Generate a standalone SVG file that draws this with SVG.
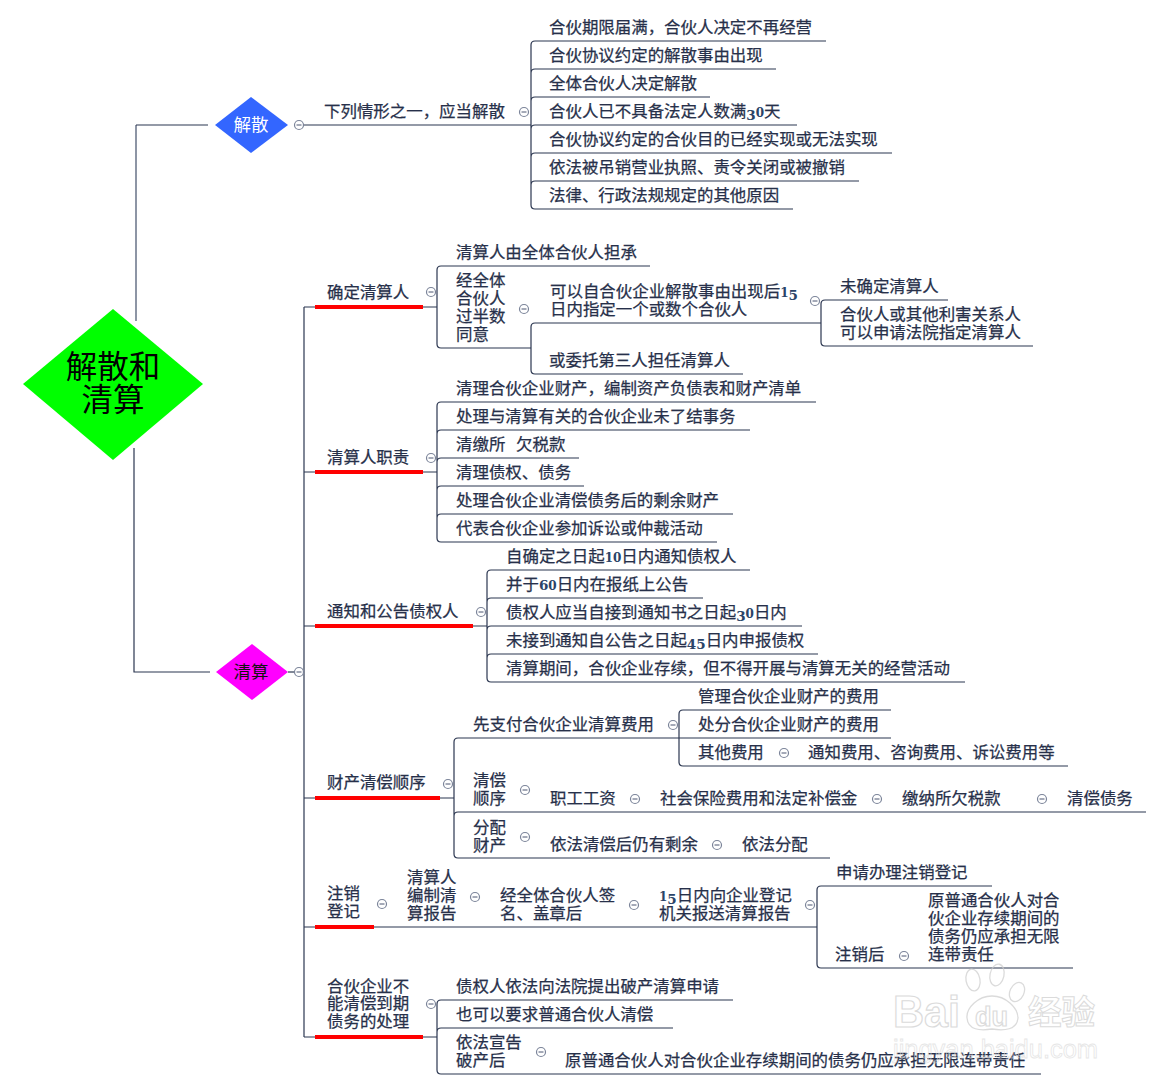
<svg xmlns="http://www.w3.org/2000/svg" width="1162" height="1090" viewBox="0 0 1162 1090">
<style>
text{font-family:"Noto Sans CJK SC","Liberation Sans",sans-serif;font-size:16.45px;fill:#27304a;stroke:#27304a;stroke-width:.25}
.n{font-family:"DejaVu Serif","Noto Sans CJK SC",serif;font-weight:bold;font-size:13.5px;fill:#2a4468;stroke:none}
.s{font-size:12px}
.l{fill:none;stroke:#2b3650;stroke-width:1.2}
.g{fill:none;stroke:#8d95a5;stroke-width:2}
.r{fill:none;stroke:#ff0000;stroke-width:4}
.c{fill:#fff;stroke:#7b8499;stroke-width:1.2}
.m{stroke:#4a5570;stroke-width:1}
.w{font-family:"Liberation Sans",sans-serif;font-weight:bold;fill:#fff;stroke:#cdcdcd;stroke-width:1.2}
</style>
<defs>
<g id="col"><circle class="c" r="4.5"/><line class="m" x1="-2.5" x2="2.5"/></g>
</defs>
<rect width="1162" height="1090" fill="#fff"/>
<g id="connectors">
<path class="g" d="M136 321V125"/>
<path class="l" d="M136 125H208"/>
<path class="l" d="M134 448V672H210"/>
<path class="l" d="M304 125H531"/>
<path class="l" d="M304 672H288"/>
<path class="l" d="M304 307V1037"/>
<path class="l" d="M826 41H535Q531 41 531 45V205Q531 209 535 209H793M531 73Q531 69 535 69H776M531 101Q531 97 535 97H710M531 129Q531 125 535 125H797M531 157Q531 153 535 153H892M531 185Q531 181 535 181H859"/>
<path class="l" d="M304 307H437M650 266H441Q437 266 437 270V344Q437 348 441 348H531"/>
<path class="l" d="M743 374H535Q531 374 531 370V327Q531 323 535 323H821"/>
<path class="l" d="M948 300H825Q821 300 821 304V342Q821 346 825 346H1033"/>
<path class="l" d="M304 472H437M816 402H441Q437 402 437 406V538Q437 542 441 542H717M437 434Q437 430 441 430H750M437 462Q437 458 441 458H579M437 490Q437 486 441 486H584M437 518Q437 514 441 514H733"/>
<path class="l" d="M304 626H487M750 570H491Q487 570 487 574V678Q487 682 491 682H965M487 602Q487 598 491 598H703M487 630Q487 626 491 626H802M487 658Q487 654 491 654H818"/>
<path class="l" d="M304 798H454M679 738H458Q454 738 454 742V854Q454 858 458 858H830M454 816Q454 812 458 812H1146"/>
<path class="l" d="M891 710H683Q679 710 679 714V762Q679 766 683 766H1068M679 738H891"/>
<path class="l" d="M304 927H817M992 886H821Q817 886 817 890V964Q817 968 821 968H1073"/>
<path class="l" d="M304 1037H437M733 1000H441Q437 1000 437 1004V1070Q437 1074 441 1074H1041M437 1032Q437 1028 441 1028H673"/>
<path class="r" d="M315 307H423M315 472H423M315 626H473M315 798H440M315 927H374M315 1037H423"/>
</g>
<g id="collapse">
<use href="#col" x="299" y="125"/><use href="#col" x="524" y="112"/><use href="#col" x="299" y="672"/>
<use href="#col" x="431" y="292"/><use href="#col" x="524" y="309"/><use href="#col" x="815" y="301"/>
<use href="#col" x="431" y="458"/><use href="#col" x="481" y="612"/><use href="#col" x="448" y="784"/>
<use href="#col" x="673" y="725"/><use href="#col" x="784" y="753"/><use href="#col" x="525" y="790"/>
<use href="#col" x="635" y="799"/><use href="#col" x="877" y="799"/><use href="#col" x="1042" y="799"/>
<use href="#col" x="525" y="837"/><use href="#col" x="717" y="845"/>
<use href="#col" x="382" y="904"/><use href="#col" x="475" y="897"/><use href="#col" x="634" y="905"/><use href="#col" x="810" y="905"/>
<use href="#col" x="904" y="956"/><use href="#col" x="431" y="1004"/><use href="#col" x="541" y="1052"/>
</g>
<g id="root"><polygon points="113,309 203,384 113,460 23,384" fill="#00ff00"/>
<text x="113" y="378" text-anchor="middle" style="font-size:31.5px;fill:#000;stroke:none">解散和</text>
<text x="113" y="411" text-anchor="middle" style="font-size:31.5px;fill:#000;stroke:none">清算</text></g>
<g id="jiesan"><polygon points="251,97 288,125 251,153 215,125" fill="#3366ff"/>
<text x="251" y="131" text-anchor="middle" style="font-size:17.5px;fill:#fff;stroke:none">解散</text></g>
<g id="qingsuan"><polygon points="252,644 288,672 252,700 216,672" fill="#ff00ff"/>
<text x="251" y="678" text-anchor="middle" style="font-size:17.5px;fill:#111;stroke:none">清算</text></g>
<g id="jiesan-items">
<text x="324" y="117">下列情形之一，应当解散</text>
<text x="549" y="33">合伙期限届满，合伙人决定不再经营</text>
<text x="549" y="61">合伙协议约定的解散事由出现</text>
<text x="549" y="89">全体合伙人决定解散</text>
<text x="549" y="117">合伙人已不具备法定人数满<tspan class="n" dy="3">3</tspan><tspan class="n s" dy="-3">0</tspan>天</text>
<text x="549" y="145">合伙协议约定的合伙目的已经实现或无法实现</text>
<text x="549" y="173">依法被吊销营业执照、责令关闭或被撤销</text>
<text x="549" y="201">法律、行政法规规定的其他原因</text>
</g>
<g id="queding">
<text x="327" y="297.5">确定清算人</text>
<text x="456" y="258">清算人由全体合伙人担承</text>
<text x="456" y="286">经全体</text><text x="456" y="304">合伙人</text><text x="456" y="322">过半数</text><text x="456" y="340">同意</text>
<text x="550" y="297">可以自合伙企业解散事由出现后<tspan class="n s">1</tspan><tspan class="n" dy="3">5</tspan></text>
<text x="550" y="315">日内指定一个或数个合伙人</text>
<text x="549" y="366">或委托第三人担任清算人</text>
<text x="840" y="292">未确定清算人</text>
<text x="840" y="320">合伙人或其他利害关系人</text>
<text x="840" y="338">可以申请法院指定清算人</text>
</g>
<g id="zhize">
<text x="327" y="462.5">清算人职责</text>
<text x="456" y="394">清理合伙企业财产，编制资产负债表和财产清单</text>
<text x="456" y="422">处理与清算有关的合伙企业未了结事务</text>
<text x="456" y="450">清缴所<tspan x="516">欠税款</tspan></text>
<text x="456" y="478">清理债权、债务</text>
<text x="456" y="506">处理合伙企业清偿债务后的剩余财产</text>
<text x="456" y="534">代表合伙企业参加诉讼或仲裁活动</text>
</g>
<g id="tongzhi">
<text x="327" y="616.5">通知和公告债权人</text>
<text x="506" y="562">自确定之日起<tspan class="n s">10</tspan>日内通知债权人</text>
<text x="506" y="590">并于<tspan class="n">6</tspan><tspan class="n s">0</tspan>日内在报纸上公告</text>
<text x="506" y="618">债权人应当自接到通知书之日起<tspan class="n" dy="3">3</tspan><tspan class="n s" dy="-3">0</tspan>日内</text>
<text x="506" y="646">未接到通知自公告之日起<tspan class="n" dy="3">45</tspan><tspan dy="-3">日内申报债权</tspan></text>
<text x="506" y="674">清算期间，合伙企业存续，但不得开展与清算无关的经营活动</text>
</g>
<g id="shunxu">
<text x="327" y="788">财产清偿顺序</text>
<text x="473" y="730">先支付合伙企业清算费用</text>
<text x="698" y="702">管理合伙企业财产的费用</text>
<text x="698" y="730">处分合伙企业财产的费用</text>
<text x="698" y="758">其他费用</text>
<text x="808" y="758">通知费用、咨询费用、诉讼费用等</text>
<text x="473" y="786">清偿</text><text x="473" y="804">顺序</text>
<text x="550" y="804">职工工资</text>
<text x="660" y="804">社会保险费用和法定补偿金</text>
<text x="902" y="804">缴纳所欠税款</text>
<text x="1067" y="804">清偿债务</text>
<text x="473" y="833">分配</text><text x="473" y="851">财产</text>
<text x="550" y="850">依法清偿后仍有剩余</text>
<text x="742" y="850">依法分配</text>
</g>
<g id="zhuxiao">
<text x="327" y="899">注销</text><text x="327" y="917">登记</text>
<text x="407" y="883">清算人</text><text x="407" y="901">编制清</text><text x="407" y="919">算报告</text>
<text x="500" y="901">经全体合伙人签</text><text x="500" y="919">名、盖章后</text>
<text x="659" y="901"><tspan class="n s">1</tspan><tspan class="n" dy="3">5</tspan><tspan dy="-3">日内向企业登记</tspan></text><text x="659" y="919">机关报送清算报告</text>
<text x="836" y="878">申请办理注销登记</text>
<text x="835" y="960">注销后</text>
<text x="928" y="906">原普通合伙人对合</text><text x="928" y="924">伙企业存续期间的</text><text x="928" y="942">债务仍应承担无限</text><text x="928" y="960">连带责任</text>
</g>
<g id="pochan">
<text x="327" y="992">合伙企业不</text><text x="327" y="1009">能清偿到期</text><text x="327" y="1027">债务的处理</text>
<text x="456" y="992">债权人依法向法院提出破产清算申请</text>
<text x="456" y="1020">也可以要求普通合伙人清偿</text>
<text x="456" y="1048">依法宣告</text><text x="456" y="1066">破产后</text>
<text x="565" y="1066">原普通合伙人对合伙企业存续期间的债务仍应承担无限连带责任</text>
</g>
<g id="watermark" opacity="0.7">
<g fill="none" stroke="#cdcdcd" stroke-width="1.3">
<ellipse cx="973" cy="980" rx="7" ry="11" transform="rotate(-10 973 980)"/>
<ellipse cx="997" cy="975" rx="7" ry="11" transform="rotate(12 997 975)"/>
<ellipse cx="1017" cy="992" rx="7" ry="10" transform="rotate(25 1017 992)"/>
<path d="M992 996C978 996 966 1008 967 1018C968 1030 980 1031 992 1029C1004 1031 1017 1030 1018 1018C1018 1008 1006 996 992 996Z"/>
</g>
<text class="w" x="893" y="1027" textLength="67" lengthAdjust="spacingAndGlyphs" style="font-size:44px">Bai</text>
<text class="w" x="975" y="1026" textLength="33" lengthAdjust="spacingAndGlyphs" style="font-size:28px">du</text>
<text class="w" x="1028" y="1024" textLength="67" lengthAdjust="spacingAndGlyphs" style="font-family:'Noto Sans CJK SC',sans-serif;font-size:33px;stroke-width:1">经验</text>
<text x="893" y="1058" textLength="205" lengthAdjust="spacingAndGlyphs" style="font-family:'Liberation Sans',sans-serif;font-size:25px;fill:none;stroke:#dcdcdc;stroke-width:.8">jingyan.baidu.com</text>
</g>
</svg>
